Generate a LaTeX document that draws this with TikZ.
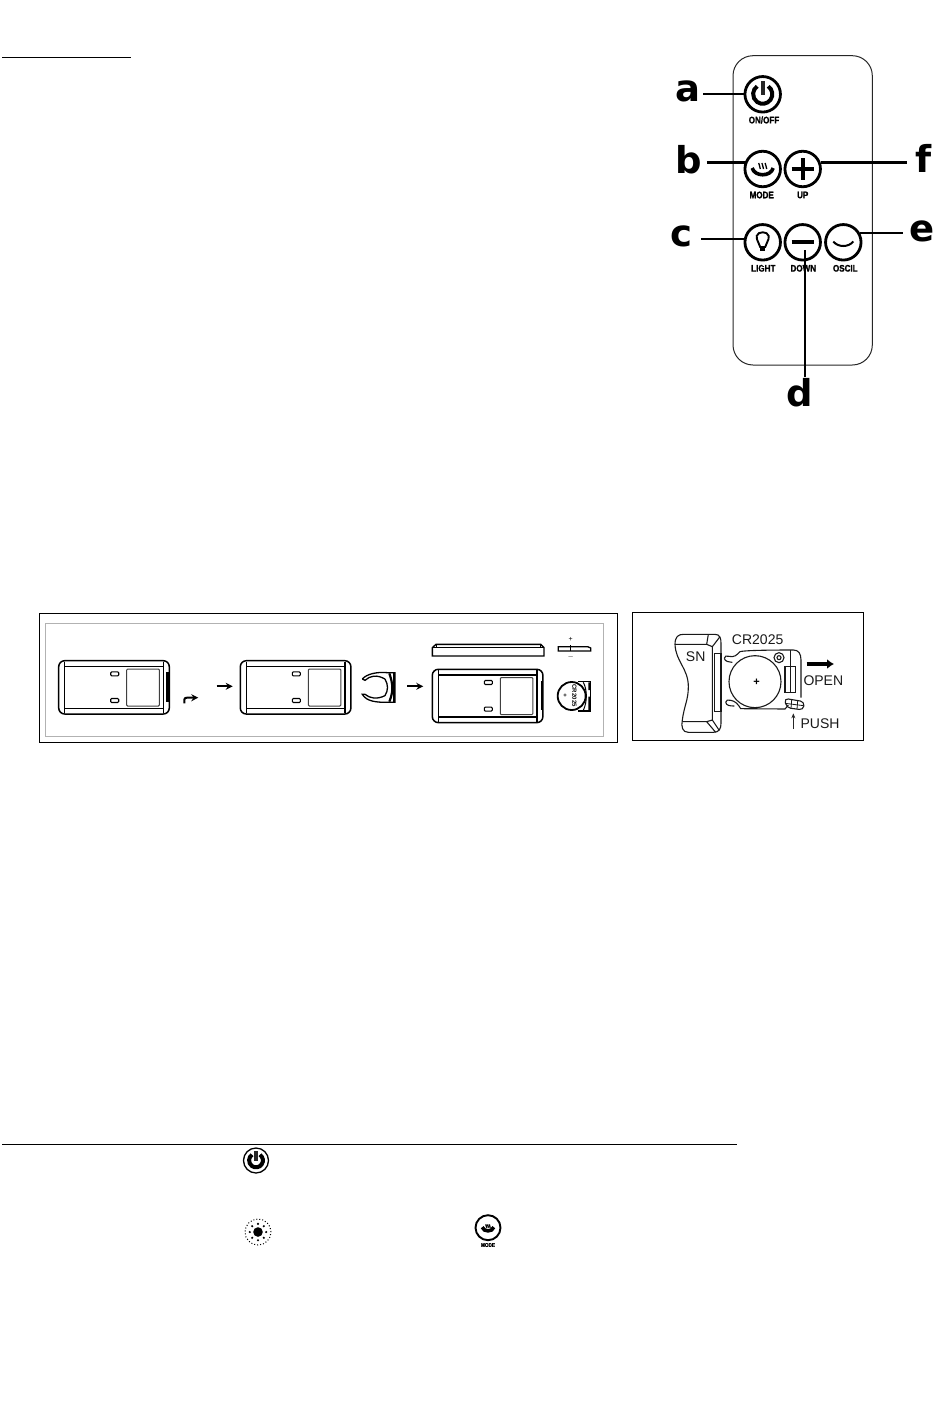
\documentclass[tikz,border=0pt]{standalone}
\usepackage{fontspec}
\setmainfont{Liberation Sans}
\newfontfamily\lettfont{DejaVu Sans}
\newfontfamily\smallfont[FakeBold=1.5]{Liberation Sans}
\usetikzlibrary{arrows.meta}
\tikzset{
  keybtn/.style={draw=black,circle,line width=2.8pt,minimum size=35.5pt,inner sep=0pt},
  keybig/.style={font=\lettfont\bfseries\fontsize{37}{37}\selectfont,anchor=base},
  keytxt/.style={font=\smallfont\bfseries\fontsize{9.5}{10}\selectfont,xscale=0.85,inner sep=0pt},
  lead/.style={black,line width=2.1pt},
  ptxt/.style={font=\fontsize{14}{14}\selectfont,text=black!90,inner sep=0pt},
  poweric/.pic={
    \draw [black,line width=4pt] (5.5,-8) arc (-55:235:9.6);
    \draw [black!85,line width=4pt] (0,-13) -- (0,1);
  },
  modeic/.pic={
    \draw [black,line width=3.6pt] (-10.5,-1) .. controls (-8,8) and (8,8) .. (10.5,-1);
    \foreach \dx in {-3.2,0,3.2}
      \draw [black,line width=1.3pt] (\dx-0.8,-6) .. controls (\dx+1,-4) and (\dx-1,-3) .. (\dx+0.8,0);
  },
  casetop/.pic={
    \draw [black,line width=1.5pt,rounded corners=6pt] (0,0) rectangle (110.6,53.3);
    \draw [black,line width=1.2pt] (6,5.6) -- (104.6,5.6) (6,47.7) -- (104.6,47.7);
    \draw [black,line width=1.2pt] (6,1) -- (6,52.3) (104.6,1) -- (104.6,52.3);
    \draw [black,line width=1.1pt,rounded corners=1pt] (52,11.2) rectangle (60,15.2);
    \draw [black,line width=1.1pt,rounded corners=1pt] (52,37.8) rectangle (60,41.8);
    \draw [black!75,line width=1pt,rounded corners=1pt] (68,8.3) rectangle (100.6,45.3);
  }
}
\begin{document}
\begin{tikzpicture}[x=1pt,y=-1pt]
\useasboundingbox (0,0) rectangle (950,1408);
% heading rules
\coordinate (ruleA) at (2,57);
\coordinate (ruleB) at (131,57);
\draw [black,line width=1pt] (ruleA) -- (ruleB);
\coordinate (ruleC) at (2,1144);
\coordinate (ruleD) at (737,1144);
\draw [black,line width=1pt] (ruleC) -- (ruleD);
% remote
\draw [black!85,line width=1pt,rounded corners=20pt] (733,55.7) rectangle (872.3,365);
\node [keybtn] (ba) at (762.7,94.3) {};
\node [keybtn] (bb) at (762.7,169) {};
\node [keybtn] (bf) at (802.7,169) {};
\node [keybtn] (bc) at (762.7,242.3) {};
\node [keybtn] (bd) at (802.7,242.3) {};
\node [keybtn] (be) at (843.3,242.3) {};
\pic at (ba) {poweric};
\pic at (bb) {modeic};
\draw [black,line width=3.8pt] (791.7,169) -- (813.7,169) (802.7,158) -- (802.7,180);
\draw [black,line width=3.8pt] (791.7,242.3) -- (813.7,242.3);
\draw [black,line width=2pt] (833.3,241.5) .. controls (838,247.5) and (848.5,247.5) .. (853.3,241.5);
\draw [black,line width=1.9pt] (760.2,247) .. controls (759.7,243) and (756.2,241) .. (756.7,236) .. controls (757.7,231) and (767.7,231) .. (768.7,236) .. controls (769.2,241) and (765.7,243) .. (765.2,247) -- cycle;
\fill [black] (760.2,246.5) rectangle (765.2,251);
\node [keytxt] (ta) at (764,120) {ON/OFF};
\node [keytxt] (tb) at (761.7,195) {MODE};
\node [keytxt] (tf) at (802.7,195) {UP};
\node [keytxt] (tc) at (763.3,268.3) {LIGHT};
\node [keytxt] (td) at (803.3,268.3) {DOWN};
\node [keytxt] (te) at (845.3,268.3) {OSCIL};
\node [keybig,inner xsep=3pt] (la) at (687.5,101.7) {a};
\node [keybig,inner xsep=5pt] (lb) at (688.5,173) {b};
\node [keybig,inner xsep=9pt] (lc) at (681,246) {c};
\node [keybig,inner ysep=1pt] (ld) at (799.5,406.7) {d};
\node [keybig,inner xsep=7pt] (le) at (922.5,241.7) {e};
\node [keybig,inner xsep=9pt] (lf) at (924,172.7) {f};
\draw [lead] (la.east |- ba.west) -- (ba.west);
\draw [lead] (lb.east |- bb.160) -- (bb.160);
\draw [lead] (lc.east |- bc.170) -- (bc.170);
\draw [lead] (lf.west |- bf.20) -- (bf.20);
\draw [lead] (le.west |- be.30) -- (be.30);
\coordinate (dtop) at (805,250);
\draw [lead] (dtop) -- (dtop |- ld.north);
% battery panel, left
\draw [black,line width=1pt] (39.3,613.3) rectangle (617.3,742.3);
\draw [black!30,line width=1pt] (45.3,623.3) rectangle (603.3,736);
\pic at (58.7,660.7) {casetop};
\fill [black] (166,671.7) rectangle (169.3,701.7);
\pic at (240.3,660.7) {casetop};
\pic at (432.3,669.3) {casetop};
\draw [black,line width=1.2pt] (541.5,681) -- (541.5,710);
\draw [-{Stealth[length=7pt,width=7pt]},black,line width=2pt] (184.3,703.3) -- (184.3,699.5) .. controls (184.3,698) and (186,697.7) .. (187,697.7) -- (198.3,697.7);
\coordinate (arrA) at (216.7,686.3);
\coordinate (arrB) at (232.7,686.3);
\draw [-{Stealth[length=7pt,width=7pt]},black,line width=2pt] (arrA) -- (arrB);
\coordinate (arrC) at (407.3,686.3);
\coordinate (arrD) at (423.3,686.3);
\draw [-{Stealth[length=7pt,width=7pt]},black,line width=2pt] (arrC) -- (arrD);
\begin{scope}[shift={(330,605)},scale=1/3]
% clip
\draw [black,line width=1.3pt] (97,222) .. controls (110,207) and (140,200) .. (172,203) -- (195,203) -- (195,292) -- (172,292) .. controls (140,292) and (110,290) .. (97,268) -- (105,268) .. controls (120,280) and (140,284) .. (165,272);
\draw [black,line width=1.3pt] (97,222) -- (105,226) .. controls (120,212) and (140,208) .. (165,222);
\draw [black,line width=1.3pt] (165,222) .. controls (175,240) and (175,255) .. (165,272);
\draw [black,line width=2.2pt] (178,205) .. controls (190,240) and (190,260) .. (178,290);
\fill [black] (188,203) rectangle (195,292);
% lid, side view
\draw [black,line width=1.4pt] (307,153) -- (307,128) -- (318,118) -- (632,118) -- (642,128) -- (642,153) -- cycle;
\draw [black,line width=1.2pt] (307,128) -- (642,128);
\draw [black,line width=1pt] (318,118) -- (318,128) (632,118) -- (632,128);
% coin, side view
\draw [black,line width=1.3pt] (685,125) -- (773,125) -- (782,129) -- (782,138) -- (685,138) -- cycle;
\draw [black,line width=0.8pt] (722,120) -- (722,138);
\node [font=\fontsize{7}{7}\selectfont,inner sep=0pt] (plus) at (722,103) {+};
\node [font=\fontsize{7}{7}\selectfont,inner sep=0pt] (minus) at (722,155) {$-$};
% coin in holder
\draw [black,line width=1.3pt] (745,230) -- (782,230) -- (782,318) -- (745,318);
\fill [black] (775,232) rectangle (782,255) (775,275) rectangle (782,318);
\draw [black,line width=1pt] (760,232) .. controls (772,255) and (772,290) .. (760,316);
\draw [black,line width=1.8pt,fill=white] (725,273) circle (42);
\node [font=\bfseries\fontsize{6}{6}\selectfont,rotate=-90,inner sep=0pt] (coin) at (733,272) {CR2025};
\node [font=\bfseries\fontsize{6}{6}\selectfont,inner sep=0pt] (coinplus) at (705,272) {+};
\end{scope}
% battery panel, right
\draw [black,line width=1pt] (632.3,612.3) rectangle (863,740.3);
\begin{scope}[shift={(625,605)},scale=1/3]
\draw [black!90,line width=1.1pt] (150,118) .. controls (150,95) and (160,88) .. (175,88) -- (270,88) .. controls (285,88) and (288,100) .. (288,115) -- (288,355) .. controls (288,372) and (282,382) .. (265,382) -- (190,382) .. controls (172,382) and (168,365) .. (172,345) .. controls (178,300) and (190,285) .. (190,245) .. controls (190,190) and (152,170) .. (150,118) -- cycle;
\draw [black!90,line width=1.1pt] (150,118) -- (245,118) -- (262,125) -- (262,345) -- (245,350) -- (172,350);
\draw [black!90,line width=1.1pt] (245,118) -- (250,88) (262,125) -- (285,95) (262,345) -- (282,375) (245,350) -- (272,382);
\draw [black!90,line width=1.1pt] (268,145) rectangle (288,320);
\draw [black!90,line width=1.1pt] (390,230) circle (78);
\draw [black!90,line width=1.1pt] (298,160) .. controls (298,152) and (305,152) .. (312,154) .. controls (328,158) and (335,150) .. (345,140) .. controls (360,135) and (480,135) .. (505,135) .. controls (520,135) and (528,145) .. (528,165) -- (528,278);
\draw [black!90,line width=1.1pt] (298,160) .. controls (300,170) and (310,170) .. (322,172);
\draw [black!90,line width=1.1pt] (302,292) .. controls (302,284) and (310,284) .. (318,286) .. controls (330,288) and (340,298) .. (347,311) -- (480,312) -- (490,300);
\draw [black!90,line width=1.1pt] (302,292) .. controls (304,302) and (315,303) .. (328,303);
\draw [black!90,line width=1.1pt] (462,158) circle (15) (462,158) circle (6);
\draw [black!90,line width=1.1pt] (497,135) -- (497,265);
\draw [black!90,line width=1.1pt] (480,185) rectangle (512,262);
\draw [black!90,line width=1.1pt,rounded corners=4pt] (478,280) -- (538,290) -- (535,315) -- (485,308) -- cycle;
\draw [black!90,line width=0.8pt] (500,285) -- (498,310) (518,288) -- (516,312) (480,295) -- (536,302);
\coordinate (openA) at (545,177);
\coordinate (openB) at (627,177);
\draw [-{Latex[length=7pt,width=10pt]},black,line width=4.2pt] (openA) -- (openB);
\coordinate (pushA) at (505,372);
\coordinate (pushB) at (505,325);
\draw [-{Stealth[length=5pt,width=4pt]},black!85,line width=0.9pt] (pushA) -- (pushB);
\node [ptxt] (sn) at (212,155) {SN};
\node [ptxt] (cr) at (398,103) {CR2025};
\node [font=\bfseries\fontsize{11}{11}\selectfont,inner sep=0pt] (cplus) at (395,232) {+};
\node [ptxt] (open) at (595,227) {OPEN};
\node [ptxt] (push) at (585,355) {PUSH};
\end{scope}
% icons in the text
\node [draw=black,circle,line width=1.3pt,minimum size=25pt,inner sep=0pt] (ipower) at (256,1160.5) {};
\pic [scale=0.72] at (ipower) {poweric};
\node [draw=black,circle,line width=1pt,dotted,minimum size=26pt,inner sep=0pt] (ilight) at (258,1232) {};
\fill [black] (ilight) circle (4.8);
\foreach \a in {0,45,...,315}
  \fill [black] (ilight) ++(\a:8.2) circle (1.2);
\node [draw=black,circle,line width=1.9pt,minimum size=25pt,inner sep=0pt] (imode) at (488,1227.7) {};
\pic [scale=0.55] at (imode) {modeic};
\node [font=\smallfont\bfseries\fontsize{5.5}{6}\selectfont,xscale=0.85,inner sep=0pt] (tmode) at (488,1245) {MODE};
\end{tikzpicture}
\end{document}
